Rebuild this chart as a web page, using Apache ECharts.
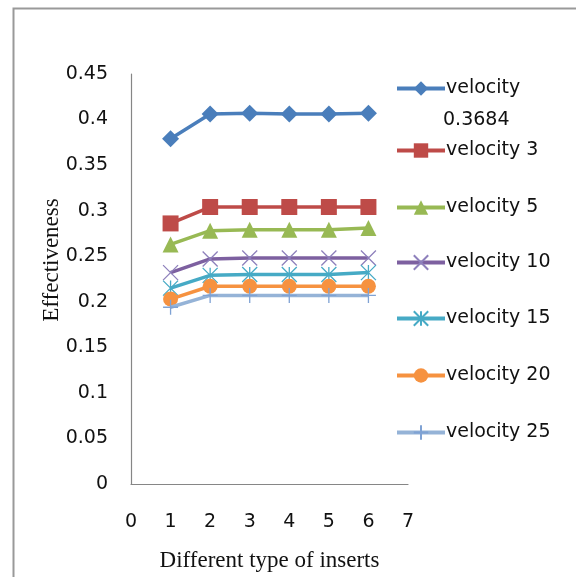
<!DOCTYPE html>
<html>
<head>
<meta charset="utf-8">
<script src="https://cdn.jsdelivr.net/npm/echarts@6/dist/echarts.min.js"></script>
<style>
  html, body { margin: 0; padding: 0; background: #fff; }
  #chart { width: 576px; height: 577px; }
</style>
</head>
<body>
<div id="chart"></div>
<script>
// Insert types on the x axis
const insertTypes = [1, 2, 3, 4, 5, 6];

// Effectiveness for each velocity
const seriesNames = ['velocity', 'velocity 3', 'velocity 5', 'velocity 10', 'velocity 15', 'velocity 20', 'velocity 25'];
const velocity0368 = [0.379, 0.406, 0.407, 0.406, 0.406, 0.407];
const velocity3  = [0.286, 0.304, 0.304, 0.304, 0.304, 0.304];
const velocity5  = [0.263, 0.278, 0.279, 0.279, 0.279, 0.281];
const velocity10 = [0.232, 0.247, 0.248, 0.248, 0.248, 0.248];
const velocity15 = [0.215, 0.229, 0.230, 0.230, 0.230, 0.232];
const velocity20 = [0.203, 0.217, 0.217, 0.217, 0.217, 0.217];
const velocity25 = [0.194, 0.207, 0.207, 0.207, 0.207, 0.207];
const allValues = [velocity0368, velocity3, velocity5, velocity10, velocity15, velocity20, velocity25];

// Styling per series
const colors = ['#4A7EBB', '#BE4B48', '#98B954', '#7D60A0', '#46AAC5', '#F69240', '#95B3D7'];
const symbols = [
  'diamond', 'rect', 'triangle',
  'path://M0,0L10,10M0,10L10,0',
  'path://M5,0L5,10M0,0L10,10M0,10L10,0',
  'circle',
  'path://M5,0L5,10M0,5L10,5'
];
const symbolSizes = [17, 16, 16, 15, 15, 15, 15];
const strokeColors = [null, null, null, '#8E80BC', '#46AAC5', null, '#7FA2D4'];
const legendCenters = [88, 150, 207, 262, 318, 375, 432];

const series = seriesNames.map((name, i) => {
  const stroked = strokeColors[i] !== null;
  return {
    name: name,
    type: 'line',
    data: insertTypes.map((x, j) => [x, allValues[i][j]]),
    symbol: symbols[i],
    symbolSize: symbolSizes[i],
    showAllSymbol: true,
    lineStyle: { color: colors[i], width: 3.5 },
    itemStyle: stroked
      ? { color: 'rgba(0,0,0,0)', borderColor: strokeColors[i], borderWidth: 1.3 }
      : { color: colors[i], borderWidth: 0 },
    emphasis: { disabled: true },
    z: 2 + i
  };
});

const legends = seriesNames.map((name, i) => ({
  data: [name],
  left: 395,
  top: legendCenters[i] - 9,
  orient: 'vertical',
  padding: 0,
  itemWidth: 48,
  itemHeight: 18,
  itemGap: 4,
  selectedMode: false,
  lineStyle: { width: 4 },
  textStyle: { fontFamily: 'DejaVu Sans', fontSize: 19, color: '#111', lineHeight: 18, padding: [0, 0, 0, -4] }
}));

const chart = echarts.init(document.getElementById('chart'), null, { renderer: 'canvas' });
chart.setOption({
  backgroundColor: '#fff',
  animation: false,
  grid: { left: 131, top: 74, right: 168, bottom: 91, containLabel: false },
  xAxis: {
    type: 'value',
    min: 0, max: 7, interval: 1,
    axisLine: { lineStyle: { color: '#868686', width: 1.2 } },
    axisTick: { show: false },
    splitLine: { show: false },
    axisLabel: { margin: 29, fontFamily: 'DejaVu Sans', fontSize: 19, color: '#111' },
    name: 'Different type of inserts',
    nameLocation: 'middle',
    nameGap: 65,
    nameTextStyle: { fontFamily: 'Liberation Serif', fontSize: 23, color: '#111' }
  },
  yAxis: {
    type: 'value',
    min: 0, max: 0.45, interval: 0.05,
    axisLine: { show: true, lineStyle: { color: '#868686', width: 1.2 } },
    axisTick: { show: false },
    splitLine: { show: false },
    axisLabel: { margin: 23, fontFamily: 'DejaVu Sans', fontSize: 19, color: '#111',
      formatter: v => String(+v.toFixed(2)) }
  },
  legend: legends,
  graphic: [
    { type: 'rect', left: 11, top: 6, shape: { width: 600, height: 600 },
      style: { fill: 'none', stroke: '#999', lineWidth: 2 }, silent: true },
    { type: 'text', x: 52, y: 260, rotation: Math.PI / 2,
      style: { text: 'Effectiveness', fontFamily: 'Liberation Serif', fontSize: 23, fill: '#111',
        align: 'center', verticalAlign: 'middle' } },
    { type: 'text', x: 443, y: 120,
      style: { text: '0.3684', fontFamily: 'DejaVu Sans', fontSize: 19, fill: '#111',
        align: 'left', verticalAlign: 'middle' } }
  ],
  series: series
});
</script>
</body>
</html>
